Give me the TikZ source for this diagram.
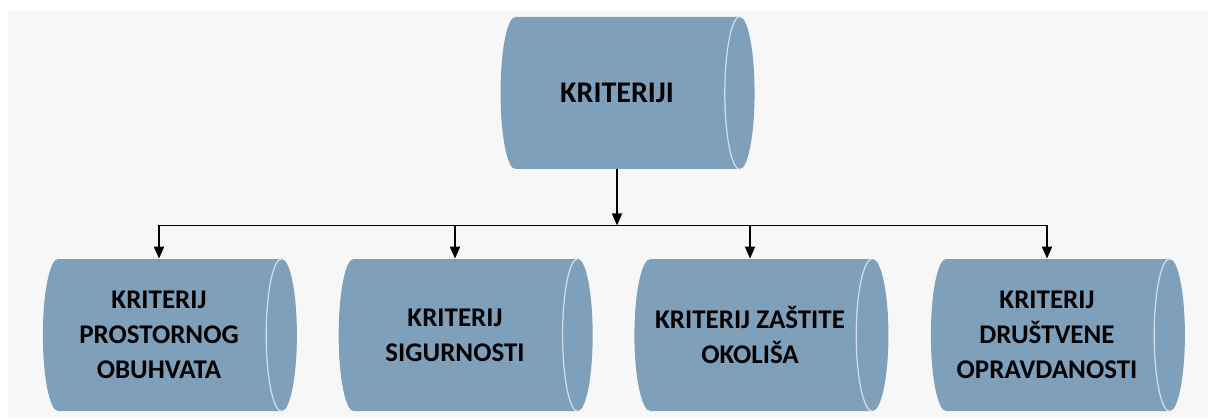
\documentclass[tikz,border=0pt]{standalone}
\usepackage{fontspec}
\setmainfont{Carlito}
\usetikzlibrary{shapes.geometric,arrows.meta,calc}
\definecolor{boxfill}{RGB}{127,160,187}
\definecolor{arcline}{RGB}{210,222,233}
\definecolor{backfill}{RGB}{247,247,247}

\begin{document}
\begin{tikzpicture}[x=0.5pt,y=0.5pt]
\tikzset{crit/.style={cylinder, shape border rotate=0, aspect=0.45,
                      cylinder uses custom fill,
                      cylinder body fill=boxfill, cylinder end fill=boxfill,
                      minimum width=76pt, minimum height=127pt,
                      align=center, font=\bfseries\fontsize{13.5}{17.5}\selectfont},
         endarc/.style={draw=arcline, line width=0.6pt},
         link/.style={line width=0.9pt, -{Triangle[length=6pt,width=5pt]}}}
\useasboundingbox (0,0) rectangle (1208,418);
\fill[backfill] (8,0) rectangle (1208,407);

% top
\node[crit, aspect=0.89, font=\bfseries\fontsize{15}{18}\selectfont] (krit) at (617,325) {KRITERIJI};

% bottom
\node[crit, aspect=0.3] (prostor) at (159,83) {KRITERIJ\\PROSTORNOG\\OBUHVATA};
\node[crit] (sigur) at (455,83) {KRITERIJ\\SIGURNOSTI};
\node[crit] (okolis) at (750,83) {KRITERIJ ZAŠTITE\\OKOLIŠA};
\node[crit, aspect=0.3] (drustvo) at (1047,83) {KRITERIJ\\DRUŠTVENE\\OPRAVDANOSTI};

% visible end of each drum
\foreach \drum in {krit,prostor,sigur,okolis,drustvo}
  \draw[endarc] let \p1=(\drum.before top), \p2=(\drum.top) in
    (\p1) arc[start angle=90, end angle=270, x radius=\x2-\x1, y radius=\y1-\y2];

% connectors
\coordinate (hub) at ([yshift=-28pt]krit.south);
\draw[link] (krit.south) -- (hub);
\draw[line width=0.9pt] (prostor.north |- hub) -- (drustvo.north |- hub);
\foreach \drum in {prostor,sigur,okolis,drustvo}
  \draw[link] (\drum.north |- hub) -- (\drum.north);
\end{tikzpicture}
\end{document}
